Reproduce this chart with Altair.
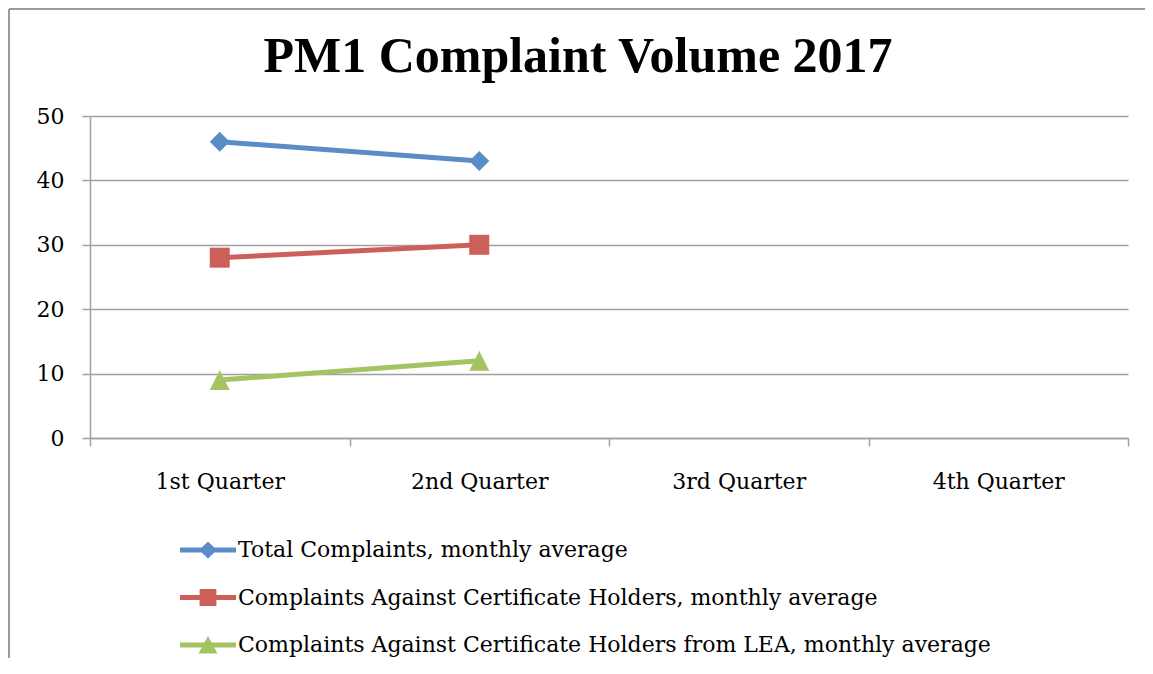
import altair as alt
import pandas as pd

quarters = ["1st Quarter", "2nd Quarter", "3rd Quarter", "4th Quarter"]
series = [
    "Total Complaints, monthly average",
    "Complaints Against Certificate Holders, monthly average",
    "Complaints Against Certificate Holders from LEA, monthly average",
]
observed_quarters = ["1st Quarter", "2nd Quarter"]
total_values = [46, 43]
holder_values = [28, 30]
lea_values = [9, 12]
colors = ["#5A8DC8", "#CD5F5A", "#A4C463"]

rows = []
for s, vals in zip(series, [total_values, holder_values, lea_values]):
    for q, v in zip(observed_quarters, vals):
        rows.append({"quarter": q, "series": s, "value": v})
df = pd.DataFrame(rows)

marker_paths = [
    "M-1,0L0,-1L1,0L0,1Z",
    "M-1,-1H1V1H-1Z",
    "M0,-1L1,1H-1Z",
]
bar = "M-1,-0.09H1V0.09H-1Z"
legend_paths = [
    bar + "M-0.32,0L0,-0.3L0.32,0L0,0.3Z",
    bar + "M-0.3,-0.3H0.3V0.3H-0.3Z",
    bar + "M0,-0.32L0.34,0.3H-0.34Z",
]

FONT = "DejaVu Serif"
GRID = "#a0a0a0"

x_enc = alt.X(
    "quarter:N",
    sort=quarters,
    bandPosition=0.5,
    scale=alt.Scale(type="band", domain=quarters, paddingInner=0, paddingOuter=0),
    axis=alt.Axis(
        title=None, labelAngle=0, tickBand="extent", grid=False,
        domainColor=GRID, domainWidth=1.5, tickColor=GRID, tickWidth=1.5, tickSize=8,
        labelFont=FONT, labelFontSize=22, labelColor="black", labelPadding=25,
    ),
)
y_enc = alt.Y(
    "value:Q",
    scale=alt.Scale(domain=[0, 50], nice=False, zero=True),
    axis=alt.Axis(
        title=None, values=[0, 10, 20, 30, 40, 50], grid=True,
        gridColor=GRID, gridWidth=1.5, domainColor=GRID, domainWidth=1.5,
        tickColor=GRID, tickWidth=1.5, tickSize=8,
        labelFont=FONT, labelFontSize=22, labelColor="black", labelPadding=18,
    ),
)

color_scale = alt.Scale(domain=series, range=colors)

base = alt.Chart(df)

lines = base.mark_line(strokeWidth=5).encode(
    x=x_enc, y=y_enc,
    color=alt.Color("series:N", scale=color_scale, legend=None),
)

points = base.mark_point(filled=True, size=400, opacity=1, strokeWidth=0).encode(
    x=x_enc, y=y_enc,
    color=alt.Color("series:N", scale=color_scale, legend=None),
    shape=alt.Shape("series:N", scale=alt.Scale(domain=series, range=marker_paths), legend=None),
)

leg = alt.Legend(
    title=None, orient="none", legendX=90, legendY=406, direction="vertical",
    labelFont=FONT, labelFontSize=22, labelColor="black", labelLimit=2000,
    labelOffset=2, rowPadding=8.5, padding=0, symbolStrokeWidth=0, symbolSize=3136,
)
legend_layer = base.transform_filter("false").mark_point(
    filled=True, size=3136, opacity=1, strokeWidth=0
).encode(
    color=alt.Color("series:N", scale=color_scale, legend=leg),
    shape=alt.Shape("series:N", scale=alt.Scale(domain=series, range=legend_paths), legend=leg),
)

frame_top = alt.Chart(df).mark_rule(color="#9a9a9a", strokeWidth=2).encode(
    x=alt.value(-81), x2=alt.value(1055), y=alt.value(-107)
)
frame_left = alt.Chart(df).mark_rule(color="#9a9a9a", strokeWidth=2).encode(
    x=alt.value(-81), y=alt.value(-107), y2=alt.value(542)
)

chart = alt.layer(frame_top, frame_left, lines, points, legend_layer).resolve_scale(
    color="independent", shape="independent"
).properties(
    width=1038, height=322,
    autosize=alt.AutoSizeParams(type="none"),
    padding={"left": 82, "top": 108, "right": 17, "bottom": 220},
    title=alt.TitleParams(
        "PM1 Complaint Volume 2017", font="Liberation Serif", fontSize=50,
        fontWeight="bold", color="black", anchor="middle", frame="group",
        baseline="alphabetic", dx=-31, dy=114, offset=0,
    ),
).configure_view(stroke=None)

chart.save("out.html", embed_options={"renderer": "svg", "actions": False})
